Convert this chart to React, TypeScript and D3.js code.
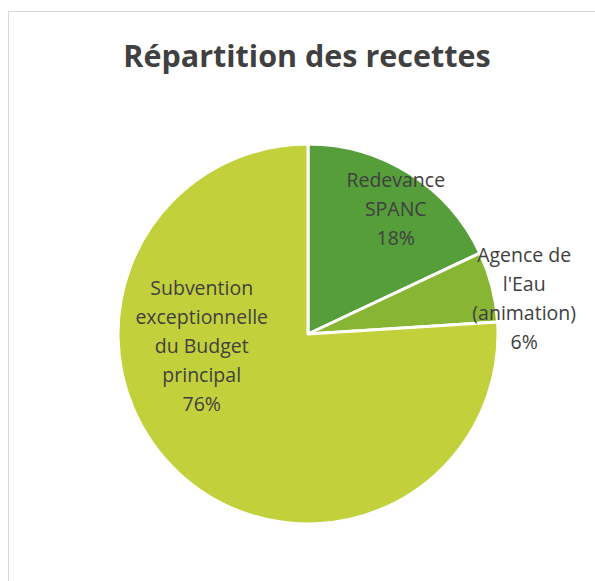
import React from "react";
import * as d3 from "d3";

const categories = [
  "Redevance SPANC",
  "Agence de l'Eau (animation)",
  "Subvention exceptionnelle du Budget principal",
];
const values = [18, 6, 76];
const labelLines = [
  ["Redevance", "SPANC", "18%"],
  ["Agence de", "l'Eau", "(animation)", "6%"],
  ["Subvention", "exceptionnelle", "du Budget", "principal", "76%"],
];
const colors = ["#559E3A", "#88B634", "#C2D13B"];

// label placement: polar (angle in degrees from 12 o'clock, distance from center)
const labelPolar = [
  { angle: 35, dist: 153 },
  { angle: 80.8, dist: 219 },
  { angle: 263.5, dist: 107 },
];

const W = 595;
const H = 581;
const cx = 308;
const cy = 334;
const radius = 190;
const lineH = 29;

const App = () => {
  const pie = d3
    .pie<number>()
    .sort(null)
    .value((d) => d);
  const arcs = pie(values);
  const arc = d3.arc<d3.PieArcDatum<number>>().innerRadius(0).outerRadius(radius);

  return (
    <svg
      width={W}
      height={H}
      style={{ position: "absolute", left: 0, top: 0 }}
      fontFamily="'Open Sans', sans-serif"
    >
      <rect x={8.5} y={11.5} width={W + 10} height={H + 10} fill="#fff" stroke="#d9d9d9" />
      <text
        x={307}
        y={67}
        textAnchor="middle"
        fontSize={30.5}
        fontWeight="bold"
        fill="#404040"
      >
        Répartition des recettes
      </text>
      <g transform={`translate(${cx},${cy})`}>
        {arcs.map((a, i) => (
          <path
            key={categories[i]}
            d={arc(a) || ""}
            fill={colors[i]}
            stroke="#fff"
            strokeWidth={3}
            strokeLinejoin="round"
          />
        ))}
        {labelLines.map((lines, i) => {
          const t = (labelPolar[i].angle * Math.PI) / 180;
          const x = Math.sin(t) * labelPolar[i].dist;
          const y = -Math.cos(t) * labelPolar[i].dist;
          const y0 = y - ((lines.length - 1) * lineH) / 2;
          return (
            <text
              key={categories[i]}
              textAnchor="middle"
              fontSize={19.5}
              fill="#404040"
            >
              {lines.map((l, j) => (
                <tspan key={j} x={x} y={y0 + j * lineH} dy="0.35em">
                  {l}
                </tspan>
              ))}
            </text>
          );
        })}
      </g>
    </svg>
  );
};

export default App;
